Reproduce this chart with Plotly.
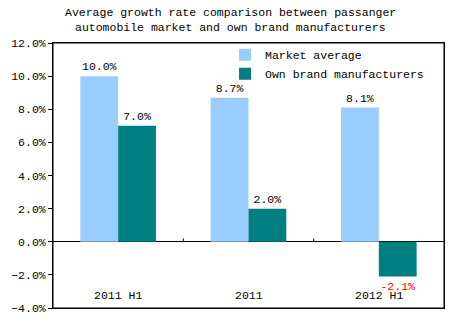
import plotly.graph_objects as go

categories = ["2011 H1", "2011", "2012 H1"]
market_avg = [10.0, 8.7, 8.1]
own_brand = [7.0, 2.0, -2.1]
series_names = ["Market average", "Own brand manufacturers"]
title_lines = ["Average growth rate comparison between passanger",
               "automobile market and own brand manufacturers"]

FONT = "Liberation Mono, Courier New, monospace"
fs = 11.5
PLOT_H = 265

fig = go.Figure()
fig.add_trace(go.Bar(
    x=categories, y=market_avg, name=series_names[0],
    marker=dict(color="#99CCFF", line=dict(width=0)),
    text=[f"{v:.1f}%" for v in market_avg], textposition="outside",
    textfont=dict(family=FONT, size=fs, color="black"), cliponaxis=False,
))
fig.add_trace(go.Bar(
    x=categories, y=own_brand, name=series_names[1],
    marker=dict(color="#008080", line=dict(width=0)),
    text=[f"{v:.1f}%" for v in own_brand], textposition="outside",
    textfont=dict(family=FONT, size=fs,
                  color=["red" if v < 0 else "black" for v in own_brand]),
    cliponaxis=False,
))

annotations = []
for i, line in enumerate(title_lines):
    annotations.append(dict(text=line, xref="paper", yref="paper",
                            x=0.455, y=1 + (31 - 15 * i) / PLOT_H,
                            xanchor="center", yanchor="middle", showarrow=False,
                            font=dict(family=FONT, size=fs, color="black")))
for i, c in enumerate(categories):
    annotations.append(dict(text=c, xref="x", yref="paper", x=i,
                            y=13 / PLOT_H, xanchor="center", yanchor="middle",
                            showarrow=False,
                            font=dict(family=FONT, size=fs, color="black")))

shapes = [dict(type="rect", xref="paper", yref="paper", x0=0, x1=1, y0=0, y1=1,
               line=dict(color="black", width=1), fillcolor="rgba(0,0,0,0)",
               layer="above")]
# small category-boundary ticks on the zero line
for i in range(len(categories) - 1):
    shapes.append(dict(type="line", xref="x", yref="y", x0=i + 0.5, x1=i + 0.5,
                       y0=0, y1=0.2, line=dict(color="black", width=1)))

fig.update_layout(
    width=463, height=322,
    margin=dict(l=53, r=19, t=43, b=14, autoexpand=False),
    paper_bgcolor="white", plot_bgcolor="white",
    font=dict(family=FONT, size=fs, color="black"),
    barmode="group", bargap=0.42, bargroupgap=0,
    showlegend=True,
    legend=dict(x=0.44, y=1.01, xanchor="left", yanchor="top",
                bgcolor="rgba(0,0,0,0)", font=dict(family=FONT, size=fs),
                itemwidth=30, tracegroupgap=0, borderwidth=0),
    annotations=annotations,
    shapes=shapes,
    xaxis=dict(type="category", showline=True, mirror=True, linecolor="black",
               linewidth=1, ticks="", showticklabels=False,
               showgrid=False, range=[-0.5, 2.5]),
    yaxis=dict(range=[-4, 12], dtick=2, tickformat=".1f", ticksuffix="%",
               showline=True, mirror=True, linecolor="black", linewidth=1,
               ticks="outside", ticklen=4, tickcolor="black", showgrid=False,
               zeroline=True, zerolinecolor="black", zerolinewidth=1),
)
fig.write_html("out.html")
